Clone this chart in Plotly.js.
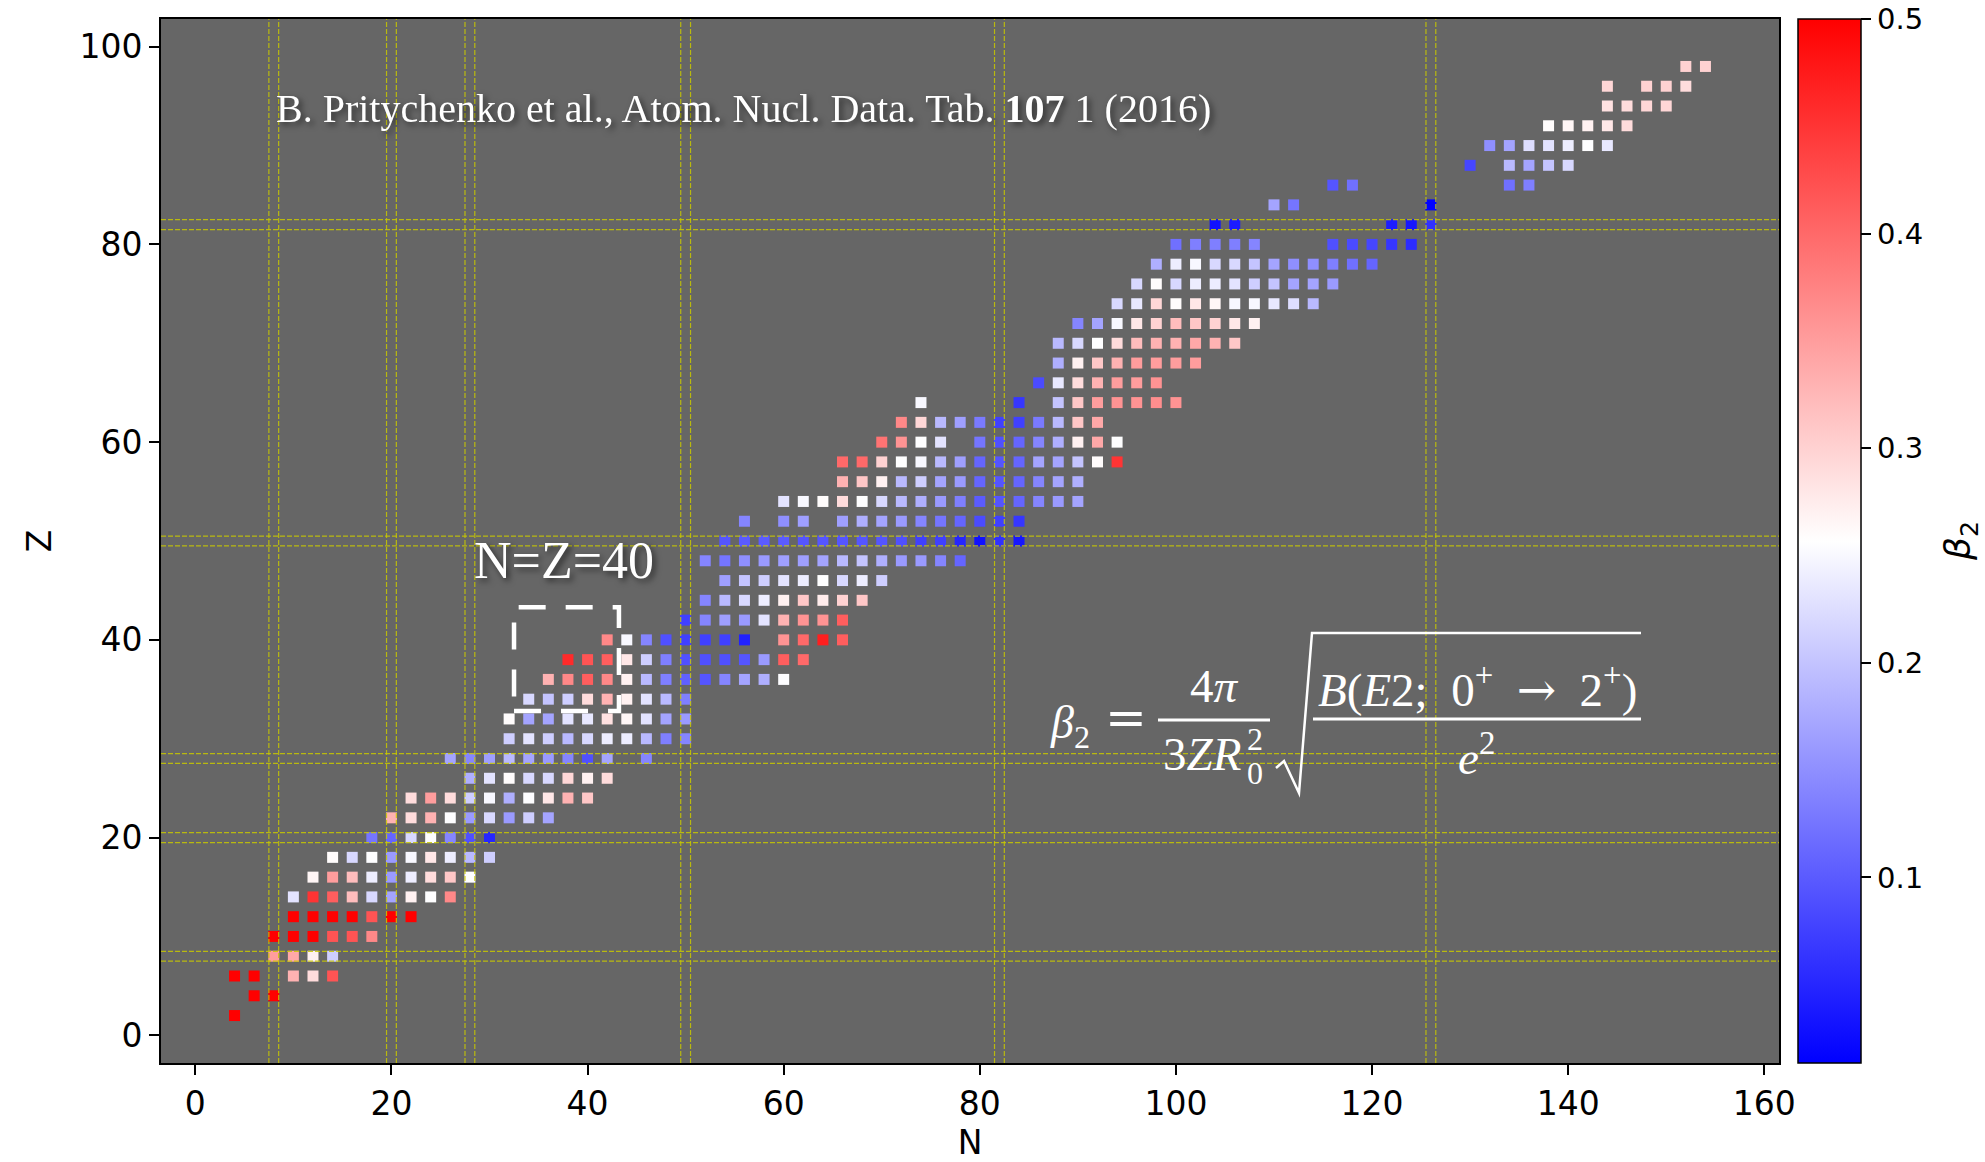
<!DOCTYPE html>
<html>
<head>
<meta charset="utf-8">
<script src="https://cdn.plot.ly/plotly-3.0.1.min.js"></script>
<style>
  html, body { margin: 0; padding: 0; background: #ffffff; }
  #chart { width: 1985px; height: 1162px; }
</style>
</head>
<body>
<div id="chart"></div>
<script>
// ---- Data: even-even nuclei, beta2 deformation ----
const rowZ = [2,4,6,8,10,12,14,16,18,20,22,24,26,28,30,32,34,36,38,40,42,44,46,48,50,52,54,56,58,60,62,64,66,68,70,72,74,76,78,80,82,84,86,88,90,92,94,96,98];
const rowN = [
  [4],
  [6,8],
  [4,6,10,12,14],
  [8,10,12,14],
  [8,10,12,14,16,18],
  [10,12,14,16,18,20,22],
  [10,12,14,16,18,20,22,24,26],
  [12,14,16,18,20,22,24,26,28],
  [14,16,18,20,22,24,26,28,30],
  [18,20,22,24,26,28,30],
  [20,22,24,26,28,30,32,34,36],
  [22,24,26,28,30,32,34,36,38,40],
  [28,30,32,34,36,38,40,42],
  [26,28,30,32,34,36,38,40,42,46],
  [32,34,36,38,40,42,44,46,48,50],
  [32,34,36,38,40,42,44,46,48,50],
  [34,36,38,40,42,44,46,48,50],
  [36,38,40,42,44,46,48,50,52,54,56,58,60],
  [38,40,42,44,46,48,50,52,54,56,58,60,62],
  [42,44,46,48,50,52,54,56,60,62,64,66],
  [50,52,54,56,58,60,62,64,66],
  [52,54,56,58,60,62,64,66,68],
  [54,56,58,60,62,64,66,68,70],
  [52,54,56,58,60,62,64,66,68,70,72,74,76,78],
  [54,56,58,60,62,64,66,68,70,72,74,76,78,80,82,84],
  [56,60,62,66,68,70,72,74,76,78,80,82,84],
  [60,62,64,66,68,70,72,74,76,78,80,82,84,86,88,90],
  [66,68,70,72,74,76,78,80,82,84,86,88,90],
  [66,68,70,72,74,76,78,80,82,84,86,88,90,92,94],
  [70,72,74,76,80,82,84,86,88,90,92,94],
  [72,74,76,78,80,82,84,86,88,90,92],
  [74,84,88,90,92,94,96,98,100],
  [86,88,90,92,94,96,98],
  [88,90,92,94,96,98,100,102],
  [88,90,92,94,96,98,100,102,104,106],
  [90,92,94,96,98,100,102,104,106,108],
  [94,96,98,100,102,104,106,108,110,112,114],
  [96,98,100,102,104,106,108,110,112,114,116],
  [98,100,102,104,106,108,110,112,114,116,118,120],
  [100,102,104,106,108,116,118,120,122,124],
  [104,106,122,124,126],
  [110,112,126],
  [116,118,134,136],
  [130,134,136,138,140],
  [132,134,136,138,140,142,144],
  [138,140,142,144,146],
  [144,146,148,150],
  [144,148,150,152],
  [152,154]
];
const rowBeta = [
  [0.50],
  [0.50,0.50],
  [0.50,0.50,0.33,0.29,0.42],
  [0.35,0.34,0.27,0.21],
  [0.50,0.50,0.50,0.42,0.42,0.37],
  [0.50,0.50,0.50,0.50,0.42,0.50,0.50],
  [0.23,0.45,0.41,0.32,0.22,0.17,0.27,0.256,0.37],
  [0.265,0.35,0.32,0.24,0.16,0.24,0.29,0.31,0.256],
  [0.26,0.22,0.255,0.16,0.25,0.28,0.24,0.19,0.21],
  [0.125,0.11,0.22,0.255,0.14,0.09,0.05],
  [0.33,0.29,0.33,0.255,0.16,0.22,0.16,0.21,0.17],
  [0.29,0.35,0.29,0.21,0.25,0.18,0.255,0.28,0.33,0.31],
  [0.18,0.23,0.26,0.22,0.22,0.295,0.27,0.29],
  [0.17,0.14,0.165,0.19,0.17,0.16,0.14,0.09,0.17,0.14],
  [0.21,0.23,0.21,0.19,0.22,0.24,0.24,0.19,0.135,0.14],
  [0.26,0.17,0.17,0.23,0.235,0.285,0.265,0.23,0.17,0.16],
  [0.22,0.20,0.21,0.29,0.33,0.27,0.23,0.19,0.135],
  [0.33,0.37,0.41,0.37,0.27,0.19,0.135,0.105,0.095,0.14,0.17,0.18,0.255],
  [0.46,0.42,0.41,0.28,0.21,0.135,0.09,0.09,0.09,0.095,0.16,0.41,0.40],
  [0.37,0.25,0.14,0.09,0.075,0.075,0.075,0.045,0.36,0.40,0.47,0.41],
  [0.075,0.14,0.165,0.16,0.23,0.33,0.36,0.36,0.41],
  [0.14,0.19,0.22,0.24,0.27,0.31,0.275,0.30,0.31],
  [0.165,0.20,0.21,0.23,0.24,0.256,0.22,0.24,0.21],
  [0.14,0.125,0.15,0.16,0.165,0.165,0.17,0.19,0.20,0.18,0.16,0.16,0.14,0.11],
  [0.095,0.10,0.10,0.10,0.095,0.095,0.095,0.095,0.095,0.09,0.075,0.075,0.05,0.03,0.06,0.035],
  [0.14,0.15,0.165,0.165,0.18,0.17,0.16,0.14,0.125,0.11,0.085,0.075,0.065],
  [0.23,0.25,0.26,0.29,0.256,0.22,0.19,0.18,0.16,0.135,0.10,0.095,0.11,0.14,0.16,0.17],
  [0.33,0.31,0.27,0.19,0.21,0.17,0.16,0.11,0.095,0.11,0.14,0.17,0.18],
  [0.40,0.40,0.30,0.256,0.25,0.19,0.165,0.11,0.095,0.11,0.17,0.17,0.20,0.26,0.45],
  [0.39,0.36,0.256,0.23,0.125,0.09,0.11,0.14,0.18,0.27,0.34,0.256],
  [0.37,0.295,0.19,0.165,0.13,0.075,0.075,0.13,0.19,0.31,0.34],
  [0.25,0.065,0.20,0.31,0.35,0.36,0.36,0.365,0.36],
  [0.085,0.235,0.29,0.33,0.35,0.35,0.36],
  [0.18,0.27,0.31,0.33,0.35,0.35,0.35,0.35],
  [0.19,0.22,0.256,0.29,0.32,0.33,0.33,0.34,0.33,0.31],
  [0.14,0.17,0.25,0.28,0.30,0.32,0.31,0.30,0.28,0.27],
  [0.22,0.235,0.295,0.26,0.28,0.265,0.25,0.25,0.235,0.225,0.19],
  [0.22,0.26,0.22,0.24,0.24,0.23,0.21,0.20,0.17,0.17,0.16],
  [0.18,0.24,0.25,0.22,0.22,0.20,0.17,0.15,0.15,0.135,0.12,0.11],
  [0.12,0.135,0.135,0.135,0.14,0.09,0.085,0.08,0.065,0.055],
  [0.03,0.04,0.04,0.035,0.06],
  [0.17,0.125,0.015],
  [0.095,0.12,0.12,0.135],
  [0.08,0.19,0.17,0.20,0.22],
  [0.15,0.17,0.225,0.23,0.24,0.256,0.235],
  [0.26,0.265,0.27,0.28,0.29],
  [0.285,0.29,0.295,0.295],
  [0.295,0.30,0.30,0.29],
  [0.30,0.30]
];
const magicN = [8,20,28,50,82,126];
const magicZ = [8,20,28,50,82];
const xTicks = [0,20,40,60,80,100,120,140,160];
const yTicks = [0,20,40,60,80,100];
const cbTicks = [0.1,0.2,0.3,0.4,0.5];
const cbTickText = ['0.1','0.2','0.3','0.4','0.5'];
const betaMin = 0.0135, betaMax = 0.5;
const refText = 'B. Pritychenko et al., Atom. Nucl. Data. Tab. <b>107</b> 1 (2016)';
const boxLabel = 'N=Z=40';

// flatten
const N = [], Z = [], B = [];
rowZ.forEach((z, i) => {
  rowN[i].forEach((n, j) => { N.push(n); Z.push(z); B.push(rowBeta[i][j]); });
});

// plot-area geometry (pixels) for helper conversions of decorations
const L = 161, R = 1779, T = 19, BOT = 1063;
const PX = x => (x - L) / (R - L);
const PY = y => (BOT - y) / (BOT - T);

const trace = {
  type: 'scatter', mode: 'markers', x: N, y: Z,
  hoverinfo: 'skip',
  marker: {
    symbol: 'square', size: 11, line: {width: 0},
    color: B, cmin: betaMin, cmax: betaMax,
    colorscale: [[0,'rgb(0,0,255)'],[0.5,'rgb(255,255,255)'],[1,'rgb(255,0,0)']],
    showscale: true,
    colorbar: {
      x: PX(1798), xanchor: 'left', xpad: 0, ypad: 0,
      y: 0.5, yanchor: 'middle', len: 1, lenmode: 'fraction',
      thickness: 63, thicknessmode: 'pixels',
      outlinewidth: 1.5, outlinecolor: '#000',
      ticks: 'outside', ticklen: 10, tickwidth: 2, tickcolor: '#000',
      tickvals: cbTicks, ticktext: cbTickText,
      tickfont: {family: 'DejaVu Sans', size: 29, color: '#000'},
      title: {text: ''}
    }
  }
};

const shapes = [];
const gridLine = {color: 'rgba(200,200,0,0.85)', width: 1.2, dash: '5px,2px'};
magicN.forEach(m => {
  [m - 0.5, m + 0.5].forEach(v => shapes.push({type: 'line', xref: 'x', yref: 'paper', x0: v, x1: v, y0: 0, y1: 1, line: gridLine, layer: 'above'}));
});
magicZ.forEach(m => {
  [m - 0.5, m + 0.5].forEach(v => shapes.push({type: 'line', xref: 'paper', yref: 'y', x0: 0, x1: 1, y0: v, y1: v, line: gridLine, layer: 'above'}));
});
// N=Z=40 dashed box
shapes.push({type: 'rect', xref: 'x', yref: 'y', x0: 32.5, x1: 43.2, y0: 32.8, y1: 43.3,
  line: {color: '#ffffff', width: 4.5, dash: '27px,20px'}, fillcolor: 'rgba(0,0,0,0)', layer: 'above'});
// formula decorations: fraction bars and radical
const white = {color: '#ffffff', width: 3};
shapes.push({type: 'line', xref: 'paper', yref: 'paper', x0: PX(1158), x1: PX(1270), y0: PY(720), y1: PY(720), line: white, layer: 'above'});
shapes.push({type: 'line', xref: 'paper', yref: 'paper', x0: PX(1313), x1: PX(1641), y0: PY(719), y1: PY(719), line: white, layer: 'above'});
shapes.push({type: 'path', xref: 'paper', yref: 'paper', layer: 'above',
  path: `M ${PX(1276)},${PY(768)} L ${PX(1284)},${PY(761)} L ${PX(1299)},${PY(793)} L ${PX(1312)},${PY(633)} L ${PX(1641)},${PY(633)}`,
  line: {color: '#ffffff', width: 2.5}});

const serif = 'Liberation Serif, DejaVu Serif, serif';
const ann = (text, x, y, size, xa, fam) => ({
  text, x: PX(x), y: PY(y), xref: 'paper', yref: 'paper', showarrow: false,
  xanchor: xa || 'center', yanchor: 'middle',
  font: {family: fam || serif, size: size, color: '#ffffff'}
});
const sp = '\u00A0';

const annotations = [
  ann(refText, 274, 108, 40, 'left'),
  ann(boxLabel, 564, 561, 52, 'center'),
  ann('<i>β</i><sub>2</sub>', 1092, 726, 46, 'right'),
  ann('=', 1126, 718, 50, 'center', 'DejaVu Serif, serif'),
  ann('4<i>π</i>', 1214, 686, 47, 'center'),
  ann('3<i>ZR</i>', 1243, 754, 47, 'right'),
  ann('0', 1245, 773, 32, 'left'),
  ann('2', 1245, 739, 32, 'left'),
  ann('<i>B</i>(<i>E</i>2;' + sp + sp + '0<sup>+</sup>' + sp + sp + '<span style="font-family:DejaVu Serif">→</span>' + sp + sp + '2<sup>+</sup>)', 1477, 687, 47, 'center'),
  ann('<i>e</i><sup>2</sup>', 1476, 754, 47, 'center'),
  {text: '<i>β</i><sub>2</sub>', x: PX(1960), y: 0.5, xref: 'paper', yref: 'paper', showarrow: false,
   xanchor: 'center', yanchor: 'middle', textangle: -90,
   font: {family: 'DejaVu Sans', size: 36, color: '#000'}}
];

const axisCommon = {
  ticks: 'outside', ticklen: 10, tickwidth: 2, tickcolor: '#000',
  showgrid: false, zeroline: false, showline: true, mirror: true,
  linecolor: '#000', linewidth: 2,
  tickfont: {family: 'DejaVu Sans', size: 33, color: '#000'}
};

const layout = {
  width: 1985, height: 1162,
  margin: {l: L, r: 1985 - R, t: T, b: 1162 - BOT, pad: 0},
  paper_bgcolor: '#ffffff', plot_bgcolor: '#666666',
  showlegend: false,
  xaxis: Object.assign({}, axisCommon, {
    range: [-3.5, 161.5], tickvals: xTicks,
    title: {text: 'N', font: {family: 'DejaVu Sans', size: 33, color: '#000'}, standoff: 22}
  }),
  yaxis: Object.assign({}, axisCommon, {
    range: [-2.8, 102.8], tickvals: yTicks,
    title: {text: 'Z', font: {family: 'DejaVu Sans', size: 33, color: '#000'}, standoff: 18}
  }),
  shapes, annotations
};

Plotly.newPlot('chart', [trace], layout, {displayModeBar: false, staticPlot: true}).then(() => {
  const sh = 'drop-shadow(3px 3px 3px rgba(0,0,0,0.55))';
  [0, 1].forEach(i => {
    const el = document.querySelector(`.annotation[data-index="${i}"]`);
    if (el) el.style.filter = sh;
  });
});
</script>
</body>
</html>
